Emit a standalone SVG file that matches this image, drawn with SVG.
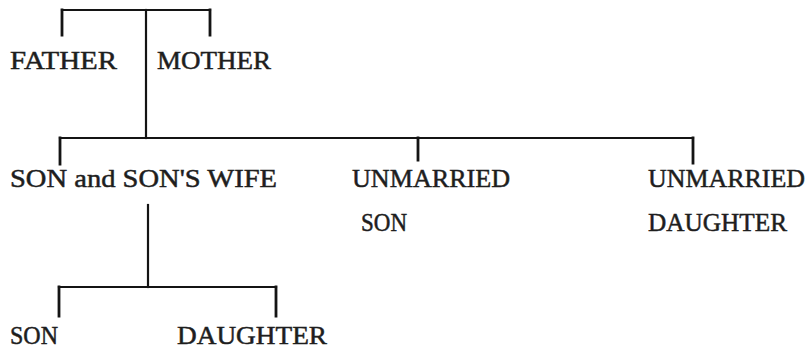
<svg xmlns="http://www.w3.org/2000/svg" width="806" height="352" viewBox="0 0 806 352">
  <style>
    .lbl { font-family: "Liberation Serif", "Times New Roman", serif; font-size: 26px; fill: #1e1e1e; stroke: #1e1e1e; stroke-width: 0.5; }
    .ln { stroke: #141414; stroke-width: 2.2; fill: none; stroke-linecap: square; }
    .dr { stroke-width: 2.8; }
  </style>
  <rect width="806" height="352" fill="#ffffff"/>

  <!-- family tree connectors -->
  <g id="connectors">
    <!-- parents -->
    <path class="ln" d="M62 10 H210"/>
    <path class="ln dr" d="M62 10 V35 M210 10 V35"/>
    <path class="ln" d="M146 10 V138"/>
    <!-- children of the parents -->
    <path class="ln" d="M60 138 H693"/>
    <path class="ln dr" d="M60 138 V164 M418 138 V160 M693 138 V163"/>
    <!-- grandchildren -->
    <path class="ln" d="M148 205 V287"/>
    <path class="ln" d="M59 287 H276"/>
    <path class="ln dr" d="M59 287 V316 M276 287 V316"/>
  </g>

  <g id="father"><text class="lbl" x="10" y="69" textLength="107" lengthAdjust="spacingAndGlyphs">FATHER</text></g>
  <g id="mother"><text class="lbl" x="157" y="69" textLength="114" lengthAdjust="spacingAndGlyphs">MOTHER</text></g>
  <g id="son-and-wife"><text class="lbl" x="10" y="187" textLength="267" lengthAdjust="spacingAndGlyphs">SON and SON'S WIFE</text></g>
  <g id="unmarried-son">
    <text class="lbl" x="352" y="187" textLength="158" lengthAdjust="spacingAndGlyphs">UNMARRIED</text>
    <text class="lbl" x="361" y="231" textLength="46" lengthAdjust="spacingAndGlyphs">SON</text>
  </g>
  <g id="unmarried-daughter">
    <text class="lbl" x="648" y="187" textLength="157" lengthAdjust="spacingAndGlyphs">UNMARRIED</text>
    <text class="lbl" x="648" y="231" textLength="139" lengthAdjust="spacingAndGlyphs">DAUGHTER</text>
  </g>
  <g id="grandson"><text class="lbl" x="10" y="344" textLength="48" lengthAdjust="spacingAndGlyphs">SON</text></g>
  <g id="granddaughter"><text class="lbl" x="177" y="344" textLength="150" lengthAdjust="spacingAndGlyphs">DAUGHTER</text></g>
</svg>
